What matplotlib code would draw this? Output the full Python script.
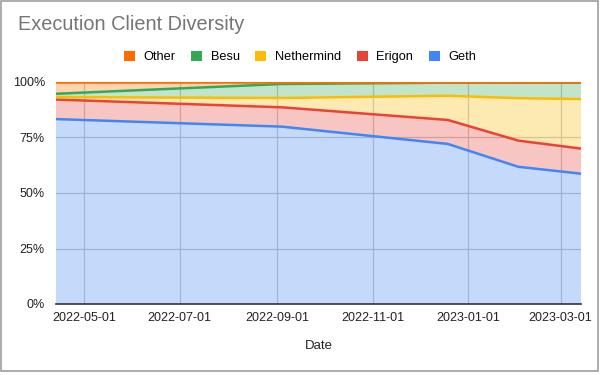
import matplotlib
matplotlib.use("Agg")
import matplotlib.pyplot as plt
import matplotlib.dates as mdates
from matplotlib.patches import Patch, Rectangle
import numpy as np
import pandas as pd

plt.rcParams["font.family"] = ["Liberation Sans", "DejaVu Sans"]

# Parts de chaque client d'exécution (%)
dates = pd.to_datetime(["2022-04-13", "2022-09-04", "2022-12-19", "2023-02-02", "2023-03-14"])
geth = [83.3, 79.9, 72.1, 61.8, 58.7]
erigon = [8.8, 8.7, 10.8, 11.8, 11.3]
nethermind = [1.1, 4.2, 10.9, 19.1, 22.3]
besu = [1.5, 6.3, 5.9, 7.0, 7.4]
other = [5.3, 0.9, 0.3, 0.3, 0.3]

series = [geth, erigon, nethermind, besu, other]
names = ["Geth", "Erigon", "Nethermind", "Besu", "Other"]
colors = ["#4285F4", "#EA4335", "#FBBC04", "#34A853", "#FF6D01"]

fig = plt.figure(figsize=(6, 3.75), dpi=100)
ax = fig.add_axes([56 / 600, 1 - 304 / 375, 525 / 600, 222 / 375])

# Aires empilées puis lignes cumulées
ax.stackplot(dates, *series, colors=colors, alpha=0.3, linewidth=0)
cumul = np.cumsum(np.array(series), axis=0)
for top, c in zip(cumul, colors):
    ax.plot(dates, top, color=c, linewidth=1.8, solid_joinstyle="round")

ax.set_xlim(dates[0], dates[-1])
ax.set_ylim(0, 100)
ax.set_yticks([0, 25, 50, 75, 100])
ax.set_yticklabels(["0%", "25%", "50%", "75%", "100%"])
ax.xaxis.set_major_locator(mdates.MonthLocator(bymonth=[1, 3, 5, 7, 9, 11]))
ax.xaxis.set_major_formatter(mdates.DateFormatter("%Y-%m-%d"))
ax.tick_params(length=0, labelsize=9, colors="#222222", pad=6)
ax.tick_params(axis="y", pad=8)
ax.grid(True, color="#c8c8c8", linewidth=0.9)
ax.set_axisbelow(True)
for s in ["top", "right", "left"]:
    ax.spines[s].set_visible(False)
ax.spines["bottom"].set_color("#333333")
ax.spines["bottom"].set_linewidth(1.2)
ax.set_xlabel("Date", fontsize=9.5, color="#222222", labelpad=11)

fig.text(18 / 600, 1 - 24 / 375, "Execution Client Diversity", fontsize=14.3,
         color="#757575", va="center", ha="left")

handles = [Patch(facecolor=c, edgecolor="none") for c in colors[::-1]]
fig.legend(handles, names[::-1], loc="center", bbox_to_anchor=(300 / 600, 1 - 57 / 375),
           ncol=5, frameon=False, fontsize=9.2, handlelength=0.85, handleheight=0.85,
           handletextpad=0.65, columnspacing=1.25)

fig.patches.append(Rectangle((0.5 / 600, 1 - 371 / 375), 597.5 / 600, 370 / 375,
                             transform=fig.transFigure, fill=False,
                             edgecolor="#9e9e9e", linewidth=1.2))

fig.savefig("out.png", dpi=100)
